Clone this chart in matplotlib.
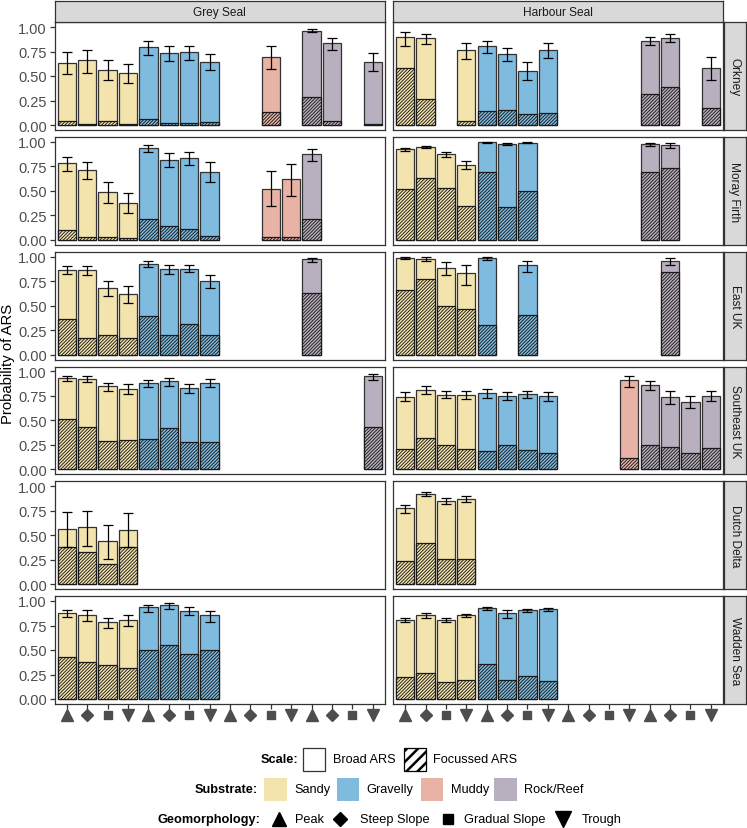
import numpy as np
import matplotlib
matplotlib.use("Agg")
import matplotlib.pyplot as plt
from matplotlib.patches import Rectangle

plt.rcParams['font.family'] = ['Liberation Sans', 'DejaVu Sans']
plt.rcParams['hatch.linewidth'] = 0.65

N = np.nan
species = ["Grey Seal", "Harbour Seal"]
regions = ["Orkney", "Moray Firth", "East UK", "Southeast UK", "Dutch Delta", "Wadden Sea"]
substrates = ["Sandy", "Gravelly", "Muddy", "Rock/Reef"]
geomorph = ["Peak", "Steep Slope", "Gradual Slope", "Trough"]
sub_colors = ["#F3E3AC", "#7FBBDF", "#E8B3A4", "#B8B0BE"]
geo_markers = ["^", "D", "s", "v"]

def pad(v):
    return list(v) + [N] * (16 - len(v))

# ---- Grey Seal: 16 values per region (substrate x geomorphology) ----
grey_broad = [
    [0.635, 0.66, 0.563, 0.53, 0.795, 0.734, 0.744, 0.645, N, N, 0.696, N, 0.962, 0.84, N, 0.645],
    [0.783, 0.714, 0.49, 0.375, 0.934, 0.81, 0.835, 0.693, N, N, 0.52, 0.617, 0.876, N, N, N],
    [0.863, 0.863, 0.678, 0.62, 0.925, 0.87, 0.877, 0.747, N, N, N, N, 0.973, N, N, N],
    [0.932, 0.922, 0.846, 0.819, 0.877, 0.898, 0.829, 0.884, N, N, N, N, N, N, N, 0.949],
    pad([0.566, 0.583, 0.444, 0.556]),
    pad([0.878, 0.861, 0.783, 0.807, 0.936, 0.963, 0.902, 0.858]),
]
grey_lo = [
    [0.52, 0.53, 0.46, 0.43, 0.71, 0.65, 0.665, 0.563, N, N, 0.567, N, 0.945, 0.768, N, 0.553],
    [0.697, 0.62, 0.38, 0.276, 0.893, 0.741, 0.76, 0.586, N, N, 0.341, 0.448, 0.803, N, N, N],
    [0.822, 0.81, 0.60, 0.527, 0.897, 0.825, 0.839, 0.678, N, N, N, N, 0.95, N, N, N],
    [0.904, 0.887, 0.802, 0.765, 0.836, 0.853, 0.778, 0.84, N, N, N, N, N, N, N, 0.915],
    pad([0.38, 0.39, 0.261, 0.38]),
    pad([0.841, 0.80, 0.729, 0.746, 0.892, 0.915, 0.858, 0.786]),
]
grey_hi = [
    [0.75, 0.77, 0.66, 0.62, 0.86, 0.81, 0.81, 0.727, N, N, 0.805, N, 0.98, 0.89, N, 0.73],
    [0.845, 0.793, 0.586, 0.48, 0.966, 0.886, 0.9, 0.79, N, N, 0.703, 0.776, 0.928, N, N, N],
    [0.904, 0.904, 0.753, 0.70, 0.955, 0.91, 0.914, 0.81, N, N, N, N, 0.99, N, N, N],
    [0.955, 0.95, 0.884, 0.867, 0.911, 0.932, 0.874, 0.918, N, N, N, N, N, N, N, 0.97],
    pad([0.736, 0.745, 0.603, 0.725]),
    pad([0.908, 0.905, 0.827, 0.858, 0.959, 0.983, 0.936, 0.902]),
]
grey_foc = [
    [0.037, 0.012, 0.04, 0.015, 0.058, 0.022, 0.022, 0.03, N, N, 0.13, N, 0.283, 0.04, N, 0.01],
    [0.097, 0.03, 0.024, 0.02, 0.214, 0.145, 0.11, 0.034, N, N, 0.024, 0.024, 0.214, N, N, N],
    [0.363, 0.168, 0.199, 0.171, 0.39, 0.195, 0.308, 0.195, N, N, N, N, 0.63, N, N, N],
    [0.519, 0.433, 0.29, 0.30, 0.314, 0.423, 0.28, 0.28, N, N, N, N, N, N, N, 0.433],
    pad([0.38, 0.332, 0.203, 0.383]),
    pad([0.425, 0.374, 0.347, 0.313, 0.5, 0.554, 0.456, 0.497]),
]

# ---- Harbour Seal ----
harbour_broad = [
    [0.894, 0.884, N, 0.761, 0.802, 0.72, 0.55, 0.764, N, N, N, N, 0.86, 0.887, N, 0.584],
    [0.924, 0.948, 0.872, 0.762, 0.993, 0.979, 0.99, N, N, N, N, N, 0.976, 0.966, N, N],
    [0.99, 0.979, 0.884, 0.829, 0.986, N, 0.914, N, N, N, N, N, N, 0.959, N, N],
    [0.74, 0.812, 0.758, 0.758, 0.775, 0.747, 0.765, 0.744, N, N, N, 0.915, 0.863, 0.737, 0.686, 0.754],
    pad([0.773, 0.922, 0.847, 0.871]),
    pad([0.803, 0.854, 0.803, 0.858, 0.925, 0.875, 0.908, 0.915]),
]
harbour_lo = [
    [0.805, 0.829, N, 0.669, 0.73, 0.648, 0.46, 0.686, N, N, N, N, 0.812, 0.846, N, 0.46],
    [0.907, 0.934, 0.841, 0.72, 0.985, 0.972, 0.984, N, N, N, N, N, 0.962, 0.941, N, N],
    [0.976, 0.955, 0.815, 0.709, 0.962, N, 0.842, N, N, N, N, N, N, 0.918, N, N],
    [0.693, 0.771, 0.727, 0.72, 0.73, 0.71, 0.727, 0.693, N, N, N, 0.843, 0.812, 0.672, 0.628, 0.70],
    pad([0.729, 0.898, 0.82, 0.841]),
    pad([0.783, 0.83, 0.783, 0.841, 0.908, 0.827, 0.892, 0.895]),
]
harbour_hi = [
    [0.945, 0.928, N, 0.84, 0.86, 0.785, 0.638, 0.833, N, N, N, N, 0.90, 0.925, N, 0.693],
    [0.941, 0.962, 0.897, 0.803, 0.998, 0.986, 0.995, N, N, N, N, N, 0.99, 0.983, N, N],
    [1.0, 0.997, 0.942, 0.914, 1.0, N, 0.959, N, N, N, N, N, N, 0.99, N, N],
    [0.785, 0.85, 0.802, 0.795, 0.816, 0.788, 0.802, 0.785, N, N, N, 0.955, 0.898, 0.795, 0.744, 0.795],
    pad([0.81, 0.942, 0.875, 0.898]),
    pad([0.827, 0.878, 0.824, 0.871, 0.939, 0.912, 0.922, 0.929]),
]
harbour_foc = [
    [0.584, 0.263, N, 0.044, 0.14, 0.15, 0.109, 0.119, N, N, N, N, 0.314, 0.392, N, 0.17],
    [0.514, 0.631, 0.524, 0.345, 0.693, 0.338, 0.493, N, N, N, N, N, 0.693, 0.734, N, N],
    [0.664, 0.767, 0.50, 0.469, 0.30, N, 0.404, N, N, N, N, N, N, 0.846, N, N],
    [0.208, 0.324, 0.253, 0.205, 0.184, 0.253, 0.195, 0.164, N, N, N, 0.12, 0.253, 0.232, 0.164, 0.218],
    pad([0.24, 0.424, 0.26, 0.26]),
    pad([0.221, 0.262, 0.17, 0.19, 0.36, 0.19, 0.238, 0.18]),
]

data = {
    "Grey Seal": (grey_broad, grey_lo, grey_hi, grey_foc),
    "Harbour Seal": (harbour_broad, harbour_lo, harbour_hi, harbour_foc),
}

W, H = 747, 829
fig = plt.figure(figsize=(W / 100, H / 100), dpi=100)

def add_px_axes(x0, top, w, h):
    return fig.add_axes([x0 / W, 1 - (top + h) / H, w / W, h / H])

col_x = [54.5, 393.0]
col_w = [330.5, 330.0]
row_top0 = 23.1
row_step = 114.8
row_h = 107.8
edge_dark = "#333333"

x = np.arange(1, 17)
colors16 = [sub_colors[i // 4] for i in range(16)]
markers16 = [geo_markers[i % 4] for i in range(16)]

for c, sp in enumerate(species):
    broad_all, lo_all, hi_all, foc_all = data[sp]
    for r, reg in enumerate(regions):
        top = row_top0 + r * row_step
        ax = add_px_axes(col_x[c], top, col_w[c], row_h)
        b = np.array(broad_all[r], dtype=float)
        lo = np.array(lo_all[r], dtype=float)
        hi = np.array(hi_all[r], dtype=float)
        f = np.array(foc_all[r], dtype=float)
        m = ~np.isnan(b)
        cols = [colors16[i] for i in range(16) if m[i]]
        ax.bar(x[m], b[m], width=0.9, color=cols, edgecolor=edge_dark,
               linewidth=0.9, zorder=2)
        ax.bar(x[m], f[m], width=0.9, color=cols, edgecolor="#1a1a1a",
               linewidth=0.9, hatch="/" * 10, zorder=3)
        ax.errorbar(x[m], b[m], yerr=[b[m] - lo[m], hi[m] - b[m]], fmt="none",
                    ecolor="black", elinewidth=0.9, capsize=3.8, capthick=0.9,
                    zorder=4)
        ax.set_xlim(0.4, 16.6)
        ax.set_ylim(-0.05, 1.05)
        for s in ax.spines.values():
            s.set_color(edge_dark)
            s.set_linewidth(0.9)
        ax.set_yticks([0, 0.25, 0.5, 0.75, 1.0])
        if c == 0:
            ax.set_yticklabels(["0.00", "0.25", "0.50", "0.75", "1.00"])
            ax.tick_params(axis="y", labelsize=10.5, labelcolor="#4D4D4D",
                           color=edge_dark, length=3.5, width=0.9, pad=2)
        else:
            ax.tick_params(axis="y", left=False, labelleft=False)
        if r == len(regions) - 1:
            ax.set_xticks(x)
            ax.set_xticklabels([])
            ax.tick_params(axis="x", color=edge_dark, length=3.5, width=0.9)
            for i in range(16):
                ms = {"^": 8.0, "v": 8.8, "D": 5.8, "s": 5.6}[markers16[i]]
                ax.plot(x[i], -0.105, marker=markers16[i], color="#4D4D4D",
                        markersize=ms, linestyle="none", clip_on=False,
                        transform=ax.get_xaxis_transform())
        else:
            ax.set_xticks([])
        # right strip
        if c == 1:
            sax = add_px_axes(723.5, top, 22, row_h)
            sax.set_xticks([]); sax.set_yticks([])
            sax.set_facecolor("#D9D9D9")
            for s in sax.spines.values():
                s.set_color(edge_dark); s.set_linewidth(0.9)
            sax.text(0.5, 0.5, reg, rotation=-90, ha="center", va="center",
                     fontsize=8.6, color="#1A1A1A", transform=sax.transAxes)
    # top strip
    tax = add_px_axes(col_x[c], 2.3, col_w[c], 20.8)
    tax.set_xticks([]); tax.set_yticks([])
    tax.set_facecolor("#D9D9D9")
    for s in tax.spines.values():
        s.set_color(edge_dark); s.set_linewidth(0.9)
    tax.text(0.5, 0.5, sp, ha="center", va="center", fontsize=8.6,
             color="#1A1A1A", transform=tax.transAxes)

fig.text(8 / W, 1 - 364 / H, "Probability of ARS", rotation=90, ha="center",
         va="center", fontsize=10.7, color="black")

# ---- legend (drawn in pixel coordinates) ----
lax = fig.add_axes([0, 0, 1, 1])
lax.set_xlim(0, W)
lax.set_ylim(H, 0)
lax.axis("off")
lax.patch.set_alpha(0)
fs = 9.2

# Scale row
yS = 760
lax.text(298, yS, "Scale:", ha="right", va="center", fontsize=fs, fontweight="bold")
lax.add_patch(Rectangle((303, yS - 11.5), 22, 23, facecolor="white", edgecolor=edge_dark, lw=0.9))
lax.text(333, yS, "Broad ARS", ha="left", va="center", fontsize=fs)
with plt.rc_context({"hatch.linewidth": 1.8}):
    hp = Rectangle((404, yS - 11.5), 22, 23, facecolor="white", edgecolor="black",
                   lw=0.9, hatch="///")
    lax.add_patch(hp)
lax.text(433, yS, "Focussed ARS", ha="left", va="center", fontsize=fs)

# Substrate row
yB = 790
lax.text(258, yB, "Substrate:", ha="right", va="center", fontsize=fs, fontweight="bold")
sub_box_x = [264, 336.5, 420.5, 494]
for sx, lab, col in zip(sub_box_x, substrates, sub_colors):
    lax.add_patch(Rectangle((sx, yB - 11.5), 22.5, 23, facecolor=col, edgecolor="none"))
    lax.text(sx + 30, yB, lab, ha="left", va="center", fontsize=fs)

# Geomorphology row
yG = 820
lax.text(260, yG, "Geomorphology:", ha="right", va="center", fontsize=fs, fontweight="bold")
geo_mx = [279, 340, 448, 563]
geo_tx = [295, 360, 464, 582]
for mx, tx, lab, mk in zip(geo_mx, geo_tx, geomorph, geo_markers):
    ms = {"^": 10.5, "v": 11.0, "D": 7.5, "s": 6.5}[mk]
    lax.plot(mx, yG, marker=mk, color="black", markersize=ms, linestyle="none")
    lax.text(tx, yG, lab, ha="left", va="center", fontsize=fs)

fig.savefig("out.png", dpi=100)
